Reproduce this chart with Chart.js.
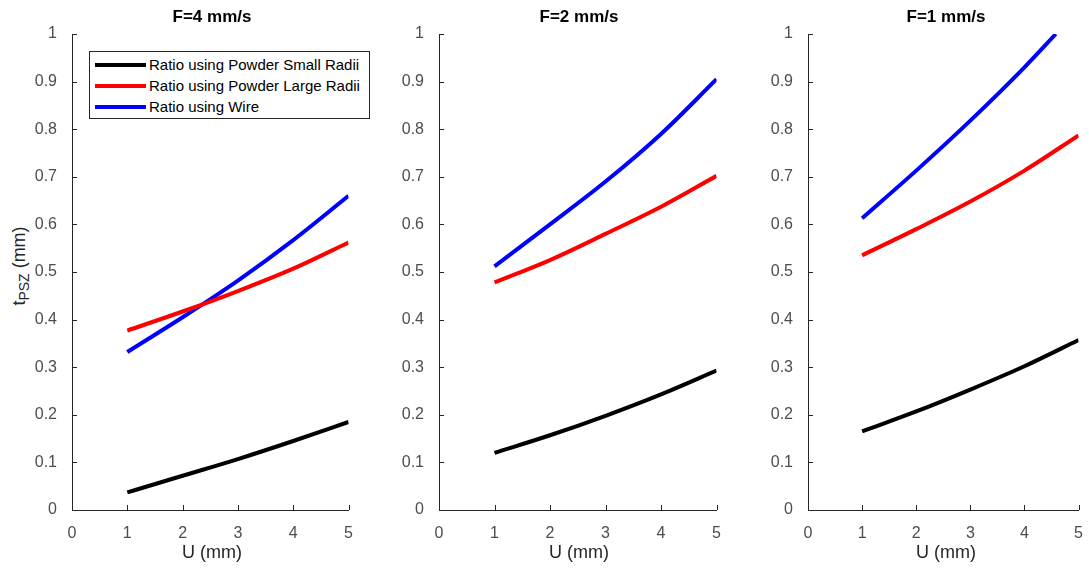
<!DOCTYPE html>
<html>
<head>
<meta charset="utf-8">
<script src="https://cdn.jsdelivr.net/npm/chart.js@4.4.0/dist/chart.umd.min.js"></script>
<style>
  body { margin: 0; background: #fff; font-family: "Liberation Sans", Arial, sans-serif; }
  #page { position: relative; width: 1089px; height: 569px; overflow: hidden; }
  .panel { position: absolute; top: 0; height: 569px; }
  .title { position: absolute; top: 7px; font-weight: bold; font-size: 17px; color: #000; transform: translateX(-50%); white-space: nowrap; }
  .xlabel { position: absolute; top: 542px; font-size: 18px; color: #262626; transform: translateX(-50%); white-space: nowrap; }
  #ylabel { position: absolute; left: 20px; top: 266px; font-size: 18px; color: #262626; transform: translate(-50%, -50%) rotate(-90deg); white-space: nowrap; }
  #ylabel sub { font-size: 14px; vertical-align: -4px; }
  #legend { position: absolute; left: 89px; top: 51px; width: 279px; height: 66px; border: 1px solid #262626; background: #fff; font-size: 15px; color: #000; }
  #legend ul { list-style: none; margin: 0; padding: 2px 0 0 0; }
  #legend li { height: 21px; line-height: 21px; white-space: nowrap; }
  #legend span { display: inline-block; width: 51px; height: 4px; margin: 0 3px 0 5px; vertical-align: middle; position: relative; top: -1px; }
</style>
</head>
<body>
<div id="page">
  <div class="panel" id="p1"><canvas id="chart-f4"></canvas></div>
  <div class="panel" id="p2"><canvas id="chart-f2"></canvas></div>
  <div class="panel" id="p3"><canvas id="chart-f1"></canvas></div>
  <div class="title" style="left:212px">F=4 mm/s</div>
  <div class="title" style="left:579px">F=2 mm/s</div>
  <div class="title" style="left:946px">F=1 mm/s</div>
  <div class="xlabel" style="left:212px">U (mm)</div>
  <div class="xlabel" style="left:579px">U (mm)</div>
  <div class="xlabel" style="left:946px">U (mm)</div>
  <div id="ylabel">t<sub>PSZ</sub> (mm)</div>
  <div id="legend"></div>
</div>
<script>
// U values (mm)
const uValues = [1, 2, 3, 4, 5];
const uWireF1 = [1, 2, 3, 4, 4.58];   // wire curve leaves the axes at t=1

const seriesNames = ['Ratio using Powder Small Radii', 'Ratio using Powder Large Radii', 'Ratio using Wire'];
const seriesColors = ['#000000', '#ff0000', '#0000ff'];

// F = 4 mm/s
const smallF4 = [0.037, 0.072, 0.107, 0.145, 0.185];
const largeF4 = [0.377, 0.417, 0.460, 0.507, 0.562];
const wireF4  = [0.332, 0.405, 0.482, 0.567, 0.660];
// F = 2 mm/s
const smallF2 = [0.120, 0.157, 0.198, 0.243, 0.293];
const largeF2 = [0.478, 0.525, 0.580, 0.637, 0.702];
const wireF2  = [0.512, 0.600, 0.690, 0.790, 0.905];
// F = 1 mm/s
const smallF1 = [0.165, 0.207, 0.253, 0.302, 0.357];
const largeF1 = [0.535, 0.590, 0.648, 0.713, 0.787];
const wireF1  = [0.613, 0.713, 0.818, 0.930, 1.000];

const xTicks = [0, 1, 2, 3, 4, 5];
const yTicks = [0, 0.1, 0.2, 0.3, 0.4, 0.5, 0.6, 0.7, 0.8, 0.9, 1];

const axisColor = '#262626';
const tickColor = '#4d4d4d';
const Y_AXIS_W = 40;

function points(xs, ys) {
  return xs.map((x, i) => ({ x: x, y: ys[i] }));
}

// MATLAB style inward tick marks
const inwardTicks = {
  id: 'inwardTicks',
  afterDraw(chart) {
    const { ctx, chartArea, scales } = chart;
    ctx.save();
    ctx.strokeStyle = axisColor;
    ctx.lineWidth = 1;
    ctx.beginPath();
    xTicks.forEach(v => {
      const px = Math.round(scales.x.getPixelForValue(v)) + 0.5;
      ctx.moveTo(px, chartArea.bottom);
      ctx.lineTo(px, chartArea.bottom - 5);
    });
    yTicks.forEach(v => {
      const py = Math.round(scales.y.getPixelForValue(v)) + 0.5;
      ctx.moveTo(chartArea.left, py);
      ctx.lineTo(chartArea.left + 5, py);
    });
    ctx.stroke();
    ctx.restore();
  }
};

//to create one panel
function createPanel(id, divId, axisX, axisRight, rightPad, wires) {
  const div = document.getElementById(divId);
  div.style.left = (axisX - Y_AXIS_W) + 'px';
  div.style.width = (axisRight - axisX + Y_AXIS_W + rightPad) + 'px';

  const datasets = wires.map((d, i) => ({
    label: seriesNames[i],
    data: points(d.x, d.y),
    borderColor: seriesColors[i],
    borderWidth: 4,
    pointRadius: 0,
    fill: false,
    cubicInterpolationMode: 'monotone'
  }));

  return new Chart(document.getElementById(id), {
    type: 'line',
    data: { datasets: datasets },
    options: {
      responsive: true,
      maintainAspectRatio: false,
      animation: false,
      layout: { padding: { top: 34, right: rightPad, left: 0, bottom: 0 } },
      plugins: { legend: { display: false }, tooltip: { enabled: false } },
      scales: {
        x: {
          type: 'linear', min: 0, max: 5,
          afterFit: s => { s.height = 59; },
          afterBuildTicks: s => { s.ticks = xTicks.map(v => ({ value: v })); },
          grid: { display: false },
          border: { display: true, color: axisColor, width: 1 },
          ticks: { color: tickColor, padding: 6, font: { family: 'Liberation Sans', size: 16 }, maxRotation: 0 }
        },
        y: {
          type: 'linear', min: 0, max: 1,
          afterFit: s => { s.width = Y_AXIS_W; },
          afterBuildTicks: s => { s.ticks = yTicks.map(v => ({ value: v })); },
          grid: { display: false },
          border: { display: true, color: axisColor, width: 1 },
          ticks: { color: tickColor, padding: 7, font: { family: 'Liberation Sans', size: 16 },
                   callback: v => String(Math.round(v * 10) / 10) }
        }
      }
    },
    plugins: [inwardTicks]
  });
}

createPanel('chart-f4', 'p1', 72, 351, 8, [
  { x: uValues, y: smallF4 }, { x: uValues, y: largeF4 }, { x: uValues, y: wireF4 }
]);
createPanel('chart-f2', 'p2', 439, 719, 8, [
  { x: uValues, y: smallF2 }, { x: uValues, y: largeF2 }, { x: uValues, y: wireF2 }
]);
createPanel('chart-f1', 'p3', 808, 1084, 5, [
  { x: uValues, y: smallF1 }, { x: uValues, y: largeF1 }, { x: uWireF1, y: wireF1 }
]);

const legendHtml = seriesNames.map((name, i) => `
  <li><span style="background-color: ${seriesColors[i]}"></span>${name}</li>
`).join('');
document.getElementById('legend').innerHTML = `<ul>${legendHtml}</ul>`;
</script>
</body>
</html>
